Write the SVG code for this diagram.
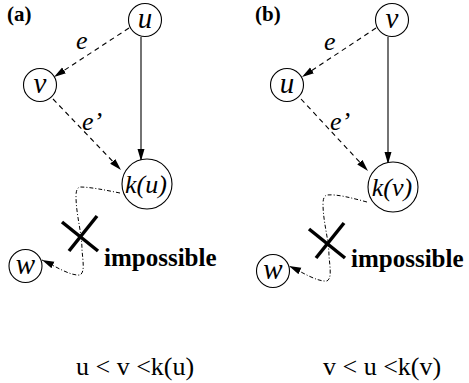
<svg xmlns="http://www.w3.org/2000/svg" width="469" height="383" viewBox="0 0 469 383">
<style>
.node{fill:#fff;stroke:#000;stroke-width:1.1}
.lab{font-family:"Liberation Serif",serif;font-style:italic;font-size:26px;fill:#000}
.big{font-size:29px}
.title{font-family:"Liberation Serif",serif;font-weight:bold;font-size:21px;fill:#000}
.imp{font-family:"Liberation Serif",serif;font-weight:bold;font-size:25px;fill:#000}
.ineq{font-family:"Liberation Serif",serif;font-size:26px;fill:#000}
.solid{fill:none;stroke:#000;stroke-width:1.1}
.dash{fill:none;stroke:#000;stroke-width:1.1;stroke-dasharray:5 4}
.dashdot{fill:none;stroke:#000;stroke-width:1;stroke-dasharray:4 2 1 2}
.cross{stroke:#000;stroke-width:3.5;stroke-linecap:butt}
</style>
<defs>
<marker id="arr" markerUnits="userSpaceOnUse" markerWidth="13" markerHeight="8" refX="12" refY="3.5" orient="auto">
<path d="M0,0 L12,3.5 L0,7 Z" fill="#000"/>
</marker>
</defs>

<g id="connectors">
<line class="solid" x1="141" y1="37" x2="141" y2="161" marker-end="url(#arr)"/>
<line class="dash" x1="129" y1="28" x2="54" y2="77" marker-end="url(#arr)"/>
<line class="dash" x1="53" y1="99" x2="121" y2="170" marker-end="url(#arr)"/>
<path class="dashdot" d="M120,193 C105,190 90,187 80,187 Q76,188 76,196 C76,215 82,233 82,250 C83,262 85,272 80,275 C70,276 55,266 42,260" marker-end="url(#arr)"/>

<line class="solid" x1="388" y1="37" x2="388" y2="164" marker-end="url(#arr)"/>
<line class="dash" x1="376" y1="28" x2="302" y2="77" marker-end="url(#arr)"/>
<line class="dash" x1="301" y1="99" x2="368" y2="171" marker-end="url(#arr)"/>
<path class="dashdot" d="M367,202 C352,198 337,194 327,195 Q323,196 323,204 C323,222 329,240 329,256 C330,268 332,278 327,281 C317,282 302,272 289,266" marker-end="url(#arr)"/>
</g>

<g id="labels-a">
<text class="title" x="7" y="21">(a)</text>
<text class="lab" x="76" y="49">e</text>
<text class="lab" x="82" y="130">e’</text>
<text class="imp" x="104" y="266">impossible</text>
<text class="ineq" x="76" y="375">u &lt; v &lt;k(u)</text>
</g>
<g id="cross-a">
<line class="cross" x1="62" y1="222" x2="98" y2="251"/>
<line class="cross" x1="69" y1="251" x2="97" y2="216"/>
</g>

<g id="node-a-u"><circle class="node" cx="145" cy="20" r="16.5"/><text class="lab big" x="145" y="28" text-anchor="middle">u</text></g>
<g id="node-a-v"><circle class="node" cx="40" cy="85" r="16.5"/><text class="lab big" x="40" y="93" text-anchor="middle">v</text></g>
<g id="node-a-ku"><circle class="node" cx="147" cy="184" r="25"/><text class="lab" x="146" y="193" text-anchor="middle">k(u)</text></g>
<g id="node-a-w"><circle class="node" cx="25.5" cy="266" r="16.5"/><text class="lab big" x="25.5" y="274" text-anchor="middle">w</text></g>

<g id="labels-b">
<text class="title" x="255" y="21">(b)</text>
<text class="lab" x="324" y="50">e</text>
<text class="lab" x="330" y="130">e’</text>
<text class="imp" x="351" y="267">impossible</text>
<text class="ineq" x="323" y="375">v &lt; u &lt;k(v)</text>
</g>
<g id="cross-b">
<line class="cross" x1="309" y1="229" x2="345" y2="258"/>
<line class="cross" x1="316" y1="258" x2="344" y2="223"/>
</g>

<g id="node-b-v"><circle class="node" cx="392" cy="20" r="16.5"/><text class="lab big" x="392" y="28" text-anchor="middle">v</text></g>
<g id="node-b-u"><circle class="node" cx="287" cy="85" r="16.5"/><text class="lab big" x="287" y="93" text-anchor="middle">u</text></g>
<g id="node-b-kv"><circle class="node" cx="393" cy="187" r="25"/><text class="lab" x="392" y="196" text-anchor="middle">k(v)</text></g>
<g id="node-b-w"><circle class="node" cx="273" cy="271" r="16.5"/><text class="lab big" x="273" y="279" text-anchor="middle">w</text></g>
</svg>
